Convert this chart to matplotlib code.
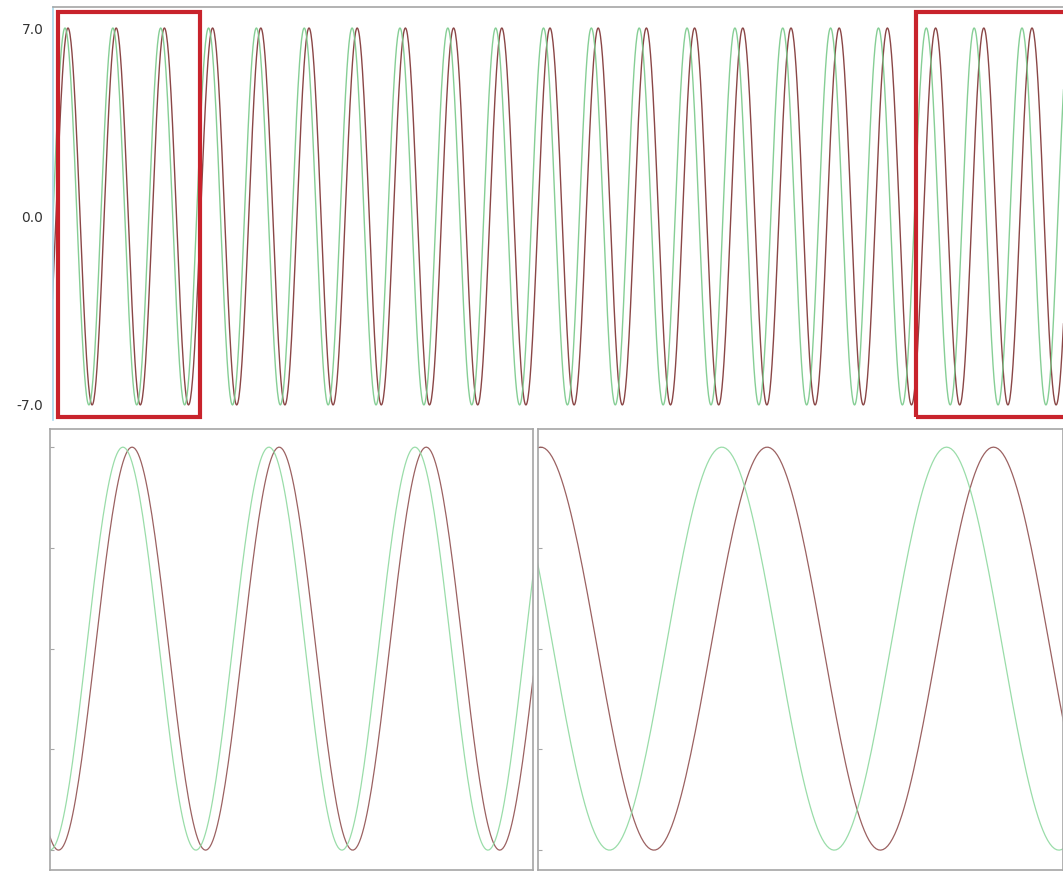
import numpy as np
import matplotlib
matplotlib.use('Agg')
import matplotlib.pyplot as plt
from matplotlib.patches import Rectangle

# 信号参数（从图中读取，横轴单位为采样点）
amplitude = 7.0
green_period = 47.85
green_first_peak = 12.0
red_period = 48.2
red_first_peak = 15.0

t_start, t_end, t_step = -20.0, 1020.0, 0.5

# 纵轴刻度
top_ticks = [7.0, 0.0, -7.0]
top_tick_labels = ['7.0', '0.0', '-7.0']
zoom_ticks = [7.0, 3.5, 0.0, -3.5, -7.0]

# 显示范围
top_xlim = (0, 1010)
left_zoom_xlim = (-11.9, 146.4)
right_zoom_xlim = (882.0, 993.8)

# 红色框（放大区域标记）
boxes = [(5, 147), (863, 1015)]

t = np.arange(t_start, t_end, t_step)
green = amplitude * np.cos(2 * np.pi * (t - green_first_peak) / green_period)
red = amplitude * np.cos(2 * np.pi * (t - red_first_peak) / red_period)

green_c = '#79c98a'
red_c = '#8a4646'
frame_c = '#a6a6a6'

fig = plt.figure(figsize=(10.63, 8.71), dpi=100)

# 上方总览图
ax = fig.add_axes([53 / 1063, 1 - 420 / 871, 1010 / 1063, 413 / 871])
ax.plot(t, red, color=red_c, lw=1.0)
ax.plot(t, green, color=green_c, lw=1.0, alpha=0.9)
ax.set_xlim(*top_xlim)
ax.set_ylim(-7.56, 7.78)
ax.set_xticks([])
ax.set_yticks(top_ticks)
ax.set_yticklabels(top_tick_labels, fontsize=10, color='#333333')
ax.tick_params(axis='y', length=0, pad=7)
for s in ['right', 'bottom']:
    ax.spines[s].set_visible(False)
ax.spines['top'].set_color(frame_c)
ax.spines['top'].set_linewidth(1.2)
ax.spines['left'].set_color('#a8d8ec')
ax.spines['left'].set_linewidth(1.2)

for x0, x1 in boxes:
    ax.add_patch(Rectangle((x0, -7.45), x1 - x0, 7.59 + 7.45, fill=False,
                           edgecolor='#c8232c', lw=3, zorder=5))

# 下方两个放大图
for rect, xlim in [([50 / 1063, 1 / 871, 483 / 1063, 441 / 871], left_zoom_xlim),
                   ([538 / 1063, 1 / 871, 525 / 1063, 441 / 871], right_zoom_xlim)]:
    a = fig.add_axes(rect)
    a.plot(t, red, color=red_c, lw=0.9, alpha=0.85)
    a.plot(t, green, color='#8fd9a0', lw=0.9, alpha=0.9)
    a.set_xlim(*xlim)
    a.set_ylim(-7.69, 7.63)
    a.set_xticks([])
    a.set_yticks(zoom_ticks)
    a.set_yticklabels([])
    a.tick_params(axis='y', direction='in', length=3, color=frame_c)
    for s in a.spines.values():
        s.set_color(frame_c)
        s.set_linewidth(1.2)

plt.savefig('out.png', dpi=100)
